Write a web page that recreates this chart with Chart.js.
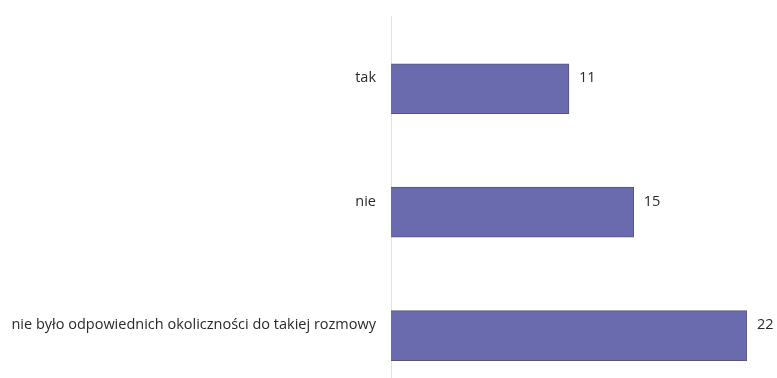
<!DOCTYPE html>
<html>
<head>
<meta charset="utf-8">
<script src="https://cdn.jsdelivr.net/npm/chart.js@4"></script>
<style>
html,body{margin:0;padding:0;background:#fff;overflow:hidden;}
canvas{display:block;}
</style>
</head>
<body>
<canvas id="answerChart" width="777" height="413"></canvas>
<script>
// Odpowiedzi
const categories = ["tak", "nie", "nie było odpowiednich okoliczności do takiej rozmowy"];
const values = [11, 15, 22];

// value labels at bar ends + zero line
const barLabels = {
  id: "barLabels",
  afterDatasetsDraw(chart) {
    const ctx = chart.ctx;
    const meta = chart.getDatasetMeta(0);
    ctx.save();
    ctx.font = "14.5px 'Open Sans'";
    ctx.fillStyle = "#2a2a2a";
    ctx.textBaseline = "middle";
    meta.data.forEach((bar, i) => {
      ctx.fillText(values[i], bar.x + 10, bar.y - 10.5);
    });
    ctx.restore();
  },
  beforeDatasetsDraw(chart) {
    const ctx = chart.ctx;
    const x = Math.round(chart.scales.x.getPixelForValue(0)) + 0.5;
    ctx.save();
    ctx.strokeStyle = "#e2e2e2";
    ctx.lineWidth = 1;
    ctx.beginPath();
    ctx.moveTo(x, chart.chartArea.top - 11);
    ctx.lineTo(x, chart.chartArea.bottom);
    ctx.stroke();
    ctx.restore();
  }
};

new Chart(document.getElementById("answerChart"), {
  type: "bar",
  data: {
    labels: categories,
    datasets: [{
      data: values,
      backgroundColor: "#6a6aae",
      borderColor: "#56567c",
      borderWidth: 1,
      barThickness: 50
    }]
  },
  options: {
    indexAxis: "y",
    responsive: false,
    animation: false,
    layout: { padding: { top: 27, right: 30, bottom: 3, left: 0 } },
    plugins: { legend: { display: false }, tooltip: { enabled: false } },
    scales: {
      x: { display: false, min: 0, max: 22 },
      y: {
        grid: { display: false },
        border: { display: false },
        afterFit(scale) { scale.width = 391; },
        ticks: {
          padding: 7,
          labelOffset: -10.5,
          color: "#2a2a2a",
          font: { family: "'Open Sans'", size: 14.5 }
        }
      }
    }
  },
  plugins: [barLabels]
});
</script>
</body>
</html>
